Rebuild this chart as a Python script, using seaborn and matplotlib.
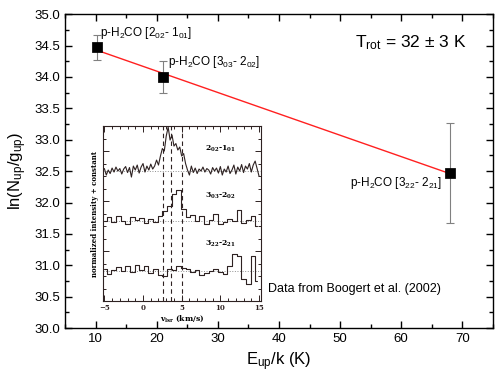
import matplotlib
matplotlib.use("Agg")
import matplotlib.pyplot as plt
from matplotlib.ticker import MultipleLocator
import seaborn as sns
import numpy as np
import pandas as pd

# ---------------------------------------------------------------------------
# Rotation diagram data (p-H2CO)
# ---------------------------------------------------------------------------
e_up = [10.3, 21.0, 68.0]
ln_n = [34.47, 34.00, 32.47]
ln_err = [0.20, 0.25, 0.80]
line_labels = [
    r"p-H$_2$CO [2$_{02}$- 1$_{01}$]",
    r"p-H$_2$CO [3$_{03}$- 2$_{02}$]",
    r"p-H$_2$CO [3$_{22}$- 2$_{21}$]",
]

# ---------------------------------------------------------------------------
# Inset spectra (normalized, offset added later)
# ---------------------------------------------------------------------------
v_fine = np.arange(-5.0, 15.01, 0.25)
spec_202 = [
    0.05, -0.08, 0.02, -0.05, 0.06, -0.02, 0.08, 0.00, 0.05, -0.06,
    0.04, 0.09, -0.03, 0.07, -0.12, 0.10, 0.02, 0.12, -0.04, 0.08,
    0.15, -0.02, 0.10, 0.02, 0.14, 0.04, 0.10, 0.22, 0.12, 0.30,
    0.45, 0.40, 0.70, 0.88, 0.62, 0.72, 0.50, 0.55, 0.42, 0.48,
    0.30, 0.35, 0.15, 0.02, -0.08, 0.10, -0.03, 0.06, -0.05, 0.04,
    0.00, 0.08, -0.02, 0.05, 0.02, -0.06, 0.07, 0.00, 0.06, -0.04,
    0.09, -0.08, 0.04, -0.02, 0.10, -0.05, 0.02, 0.12, -0.06, 0.08,
    0.00, 0.13, -0.03, 0.10, 0.04, 0.15, -0.02, 0.12, 0.20, 0.05,
    -0.10,
]
v_coarse = np.arange(-5.0, 15.0, 0.6)
spec_303 = [
    0.00, 0.08, -0.02, 0.10, 0.00, -0.06, 0.08, 0.02, 0.06, -0.04,
    0.04, -0.02, 0.10, 0.20, 0.30, 0.55, 0.62, 0.25, 0.08, 0.12,
    0.00, 0.10, -0.06, 0.02, 0.15, -0.05, -0.02, 0.04, 0.00, 0.22,
    -0.04, 0.02, 0.10, -0.10,
]
spec_322 = [
    0.05, -0.05, 0.02, 0.08, 0.00, 0.10, -0.02, 0.12, 0.02, 0.10,
    -0.04, 0.05, -0.08, -0.10, 0.05, 0.02, 0.10, 0.06, 0.04, -0.02,
    0.03, -0.08, -0.04, 0.00, 0.05, -0.02, -0.06, 0.10, 0.35, 0.30,
    -0.15, -0.25, 0.30, -0.20,
]
spec_offsets = [2.6, 1.6, 0.6]
spec_names = [r"2$_{02}$-1$_{01}$", r"3$_{03}$-2$_{02}$", r"3$_{22}$-2$_{21}$"]
v_marks = [2.6, 3.6, 5.0]

# ---------------------------------------------------------------------------
# Style
# ---------------------------------------------------------------------------
sns.set_style("ticks")
plt.rcParams["font.family"] = ["Liberation Sans", "DejaVu Sans"]
plt.rcParams["mathtext.default"] = "regular"
plt.rcParams["axes.linewidth"] = 1.0
for key in ["text.color", "axes.labelcolor", "axes.edgecolor",
            "xtick.color", "ytick.color"]:
    plt.rcParams[key] = "black"

fig = plt.figure(figsize=(5.04, 3.82), dpi=100)
ax = fig.add_axes([0.129, 0.141, 0.849, 0.822])

df = pd.DataFrame({"E": e_up, "lnN": ln_n, "err": ln_err})

ax.errorbar(df["E"], df["lnN"], yerr=df["err"], fmt="none", ecolor="#808080",
            elinewidth=0.8, capsize=3, capthick=0.8, zorder=2)
sns.regplot(data=df, x="E", y="lnN", ci=None, scatter=False, ax=ax,
            line_kws={"color": "#ff2020", "lw": 1.0, "zorder": 3})
sns.scatterplot(data=df, x="E", y="lnN", marker="s", s=45, color="black",
                edgecolor="black", ax=ax, zorder=4)

ax.set_xlim(5, 75)
ax.set_ylim(30.0, 35.0)
ax.xaxis.set_major_locator(MultipleLocator(10))
ax.xaxis.set_minor_locator(MultipleLocator(5))
ax.yaxis.set_major_locator(MultipleLocator(0.5))
ax.yaxis.set_minor_locator(MultipleLocator(0.25))
ax.yaxis.set_major_formatter(matplotlib.ticker.FormatStrFormatter("%.1f"))
ax.tick_params(which="both", direction="in", top=True, right=True, labelsize=9.5)
ax.tick_params(which="major", length=5, width=1)
ax.tick_params(which="minor", length=3, width=1)
ax.set_xlabel(r"E$_{up}$/k (K)", fontsize=12)
ax.set_ylabel(r"ln(N$_{up}$/g$_{up}$)", fontsize=12)

ax.text(10.7, 34.70, line_labels[0], fontsize=8.5, va="center")
ax.text(21.8, 34.24, line_labels[1], fontsize=8.5, va="center")
ax.text(66.7, 32.31, line_labels[2], fontsize=8.5, va="center", ha="right")
ax.text(52.5, 34.54, r"T$_{rot}$ = 32 $\pm$ 3 K", fontsize=12.5, va="center")
ax.text(38.2, 30.62, "Data from Boogert et al. (2002)", fontsize=9, va="center")

# ---------------------------------------------------------------------------
# Inset with spectra
# ---------------------------------------------------------------------------
ink = "#2e2222"
ins = fig.add_axes([0.204, 0.212, 0.313, 0.458])
serif = {"family": "DejaVu Serif", "weight": "bold"}

for v, s, off, dstyle in [
    (v_fine, spec_202, spec_offsets[0], "default"),
    (v_coarse, spec_303, spec_offsets[1], "steps-mid"),
    (v_coarse, spec_322, spec_offsets[2], "steps-mid"),
]:
    sns.lineplot(x=v, y=np.array(s) + off, ax=ins, color=ink, lw=0.8,
                 drawstyle=dstyle, estimator=None, sort=False)
    ins.axhline(off, color="#909090", lw=0.7, ls=":", zorder=0)

for vm in v_marks:
    ins.axvline(vm, color=ink, lw=0.8, ls=(0, (4, 3)))

ins.text(8.0, 3.05, spec_names[0], fontdict=serif, fontsize=5.5, va="center")
ins.text(8.0, 2.10, spec_names[1], fontdict=serif, fontsize=5.5, va="center")
ins.text(8.0, 1.15, spec_names[2], fontdict=serif, fontsize=5.5, va="center")

ins.set_xlim(-5.2, 15.2)
ins.set_ylim(0, 3.5)
ins.xaxis.set_major_locator(MultipleLocator(5))
ins.xaxis.set_minor_locator(MultipleLocator(1))
ins.yaxis.set_major_locator(MultipleLocator(1.0))
ins.yaxis.set_minor_locator(MultipleLocator(0.25))
ins.tick_params(which="both", direction="in", top=True, right=True,
                colors=ink, labelleft=False, labelsize=5, pad=2)
ins.tick_params(which="major", length=4, width=0.7)
ins.tick_params(which="minor", length=2, width=0.7)
for lab in ins.get_xticklabels():
    lab.set_fontfamily("DejaVu Serif")
    lab.set_fontweight("bold")
for sp in ins.spines.values():
    sp.set_color(ink)
    sp.set_linewidth(0.8)
ins.set_xlabel(r"v$_{lsr}$ (km/s)", fontdict=serif, fontsize=5.5, labelpad=1)
ins.set_ylabel("normalized intensity + constant", fontdict=serif, fontsize=5,
               labelpad=3)

fig.savefig("out.png", dpi=100)
